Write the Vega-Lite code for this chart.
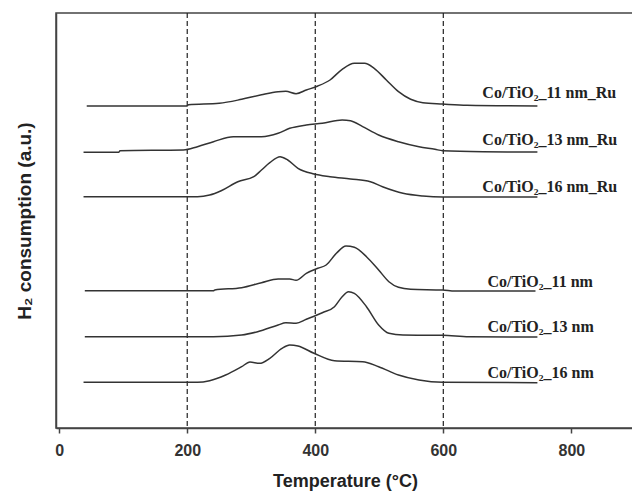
{
  "$schema": "https://vega.github.io/schema/vega-lite/v6.json",
  "width": 580,
  "height": 415,
  "autosize": {"type": "none"},
  "padding": {"left": 56, "top": 13, "right": 0, "bottom": 69},
  "background": "white",
  "config": {
    "view": {"stroke": "#444", "strokeWidth": 1.5},
    "font": "Liberation Sans"
  },
  "datasets": {
    "curves": [
      {"s":"a","t":43,"v":322},{"s":"a","t":199,"v":322},{"s":"a","t":202,"v":323.3},{"s":"a","t":250,"v":324.7},{"s":"a","t":285,"v":328.7},{"s":"a","t":316,"v":333.3},{"s":"a","t":342,"v":336.3},{"s":"a","t":354,"v":336.7},{"s":"a","t":370,"v":334.3},{"s":"a","t":386,"v":338},{"s":"a","t":404,"v":342},{"s":"a","t":423,"v":348},{"s":"a","t":442,"v":358.7},{"s":"a","t":461,"v":364.7},{"s":"a","t":477,"v":364.7},{"s":"a","t":492,"v":359.7},{"s":"a","t":511,"v":348},{"s":"a","t":530,"v":336.3},{"s":"a","t":549,"v":328.7},{"s":"a","t":568,"v":325.3},{"s":"a","t":599,"v":324},{"s":"a","t":637,"v":322.7},{"s":"a","t":747,"v":322},
      {"s":"b","t":38,"v":275.7},{"s":"b","t":93,"v":275.7},{"s":"b","t":95,"v":277.3},{"s":"b","t":194,"v":278},{"s":"b","t":216,"v":281.3},{"s":"b","t":241,"v":286.3},{"s":"b","t":272,"v":291.3},{"s":"b","t":316,"v":291.3},{"s":"b","t":342,"v":294.7},{"s":"b","t":360,"v":299.7},{"s":"b","t":386,"v":303},{"s":"b","t":411,"v":304.7},{"s":"b","t":442,"v":308},{"s":"b","t":455,"v":307.3},{"s":"b","t":474,"v":301.3},{"s":"b","t":499,"v":293},{"s":"b","t":530,"v":286.3},{"s":"b","t":562,"v":281.3},{"s":"b","t":587,"v":278.7},{"s":"b","t":599,"v":277.3},{"s":"b","t":662,"v":276.3},{"s":"b","t":747,"v":276},
      {"s":"c","t":38,"v":231.3},{"s":"c","t":216,"v":231.3},{"s":"c","t":235,"v":233},{"s":"c","t":253,"v":237.3},{"s":"c","t":279,"v":246.3},{"s":"c","t":304,"v":251.3},{"s":"c","t":316,"v":258},{"s":"c","t":329,"v":265.3},{"s":"c","t":345,"v":271.3},{"s":"c","t":357,"v":268},{"s":"c","t":373,"v":259.7},{"s":"c","t":398,"v":254},{"s":"c","t":423,"v":251.3},{"s":"c","t":455,"v":249},{"s":"c","t":486,"v":246.3},{"s":"c","t":505,"v":241.3},{"s":"c","t":537,"v":234.7},{"s":"c","t":568,"v":232},{"s":"c","t":599,"v":231},{"s":"c","t":747,"v":231},
      {"s":"d","t":40,"v":137.3},{"s":"d","t":241,"v":137.3},{"s":"d","t":243,"v":138},{"s":"d","t":285,"v":140.3},{"s":"d","t":316,"v":145.3},{"s":"d","t":342,"v":149},{"s":"d","t":360,"v":149},{"s":"d","t":370,"v":147.7},{"s":"d","t":386,"v":154.7},{"s":"d","t":404,"v":159.7},{"s":"d","t":417,"v":163},{"s":"d","t":433,"v":174.7},{"s":"d","t":448,"v":182},{"s":"d","t":461,"v":180.7},{"s":"d","t":480,"v":171.3},{"s":"d","t":499,"v":158},{"s":"d","t":515,"v":146.3},{"s":"d","t":530,"v":140.7},{"s":"d","t":549,"v":138.7},{"s":"d","t":599,"v":138},{"s":"d","t":618,"v":137},{"s":"d","t":744,"v":137},
      {"s":"e","t":40,"v":91.3},{"s":"e","t":241,"v":91.3},{"s":"e","t":285,"v":93},{"s":"e","t":310,"v":96.3},{"s":"e","t":342,"v":103},{"s":"e","t":354,"v":105.3},{"s":"e","t":370,"v":104.7},{"s":"e","t":386,"v":108.7},{"s":"e","t":411,"v":115.3},{"s":"e","t":430,"v":121.3},{"s":"e","t":442,"v":131.3},{"s":"e","t":452,"v":136.3},{"s":"e","t":461,"v":134.7},{"s":"e","t":480,"v":121.3},{"s":"e","t":499,"v":103},{"s":"e","t":515,"v":94.7},{"s":"e","t":537,"v":93},{"s":"e","t":599,"v":92.7},{"s":"e","t":640,"v":91.3},{"s":"e","t":747,"v":91},
      {"s":"f","t":38,"v":45.7},{"s":"f","t":216,"v":45.7},{"s":"f","t":235,"v":47.3},{"s":"f","t":260,"v":53},{"s":"f","t":285,"v":61.3},{"s":"f","t":298,"v":66},{"s":"f","t":313,"v":64.7},{"s":"f","t":329,"v":69.7},{"s":"f","t":348,"v":79.7},{"s":"f","t":360,"v":83},{"s":"f","t":373,"v":82},{"s":"f","t":398,"v":74.7},{"s":"f","t":430,"v":67.3},{"s":"f","t":474,"v":66.3},{"s":"f","t":499,"v":61.3},{"s":"f","t":530,"v":53},{"s":"f","t":562,"v":48},{"s":"f","t":599,"v":45.7},{"s":"f","t":747,"v":45.3}
    ],
    "labels": [
      {"label":"Co/TiO₂_11 nm_Ru","t":661,"v":335},
      {"label":"Co/TiO₂_13 nm_Ru","t":661,"v":288},
      {"label":"Co/TiO₂_16 nm_Ru","t":661,"v":241},
      {"label":"Co/TiO₂_11 nm","t":669,"v":146},
      {"label":"Co/TiO₂_13 nm","t":669,"v":101},
      {"label":"Co/TiO₂_16 nm","t":669,"v":55}
    ],
    "rules": [{"t":200},{"t":400},{"t":600}]
  },
  "layer": [
    {
      "data": {"name": "rules"},
      "mark": {"type": "rule", "color": "#222", "strokeWidth": 1.2, "strokeDash": [5, 3]},
      "encoding": {
        "x": {"field": "t", "type": "quantitative", "scale": {"domain": [-5, 901], "nice": false, "zero": false}}
      }
    },
    {
      "data": {"name": "curves"},
      "mark": {"type": "line", "color": "#333", "strokeWidth": 1.5, "interpolate": "monotone"},
      "encoding": {
        "x": {
          "field": "t", "type": "quantitative",
          "scale": {"domain": [-5, 901], "nice": false, "zero": false},
          "axis": {
            "title": "Temperature (°C)", "values": [0, 200, 400, 600, 800],
            "grid": false, "domainColor": "#444", "domainWidth": 1.5,
            "tickColor": "#444", "tickWidth": 1.5, "tickSize": 5,
            "labelFont": "Liberation Sans", "labelFontSize": 16, "labelFontWeight": "bold", "labelColor": "#333", "labelPadding": 9,
            "titleFont": "Liberation Sans", "titleFontSize": 18, "titleFontWeight": "bold", "titleColor": "#222", "titlePadding": 14,
            "titleX": 289
          }
        },
        "y": {
          "field": "v", "type": "quantitative",
          "scale": {"domain": [0, 415], "nice": false, "zero": false},
          "axis": {
            "title": "H₂ consumption (a.u.)", "labels": false, "ticks": false, "grid": false,
            "domainColor": "#444", "domainWidth": 1.5,
            "titleFont": "Liberation Sans", "titleFontSize": 19, "titleFontWeight": "bold", "titleColor": "#222", "titlePadding": 22
          }
        },
        "detail": {"field": "s"}
      }
    },
    {
      "data": {"name": "labels"},
      "mark": {"type": "text", "align": "left", "baseline": "middle", "font": "Liberation Serif", "fontSize": 16, "fontWeight": "bold", "color": "#222"},
      "encoding": {
        "x": {"field": "t", "type": "quantitative"},
        "y": {"field": "v", "type": "quantitative"},
        "text": {"field": "label"}
      }
    }
  ]
}
